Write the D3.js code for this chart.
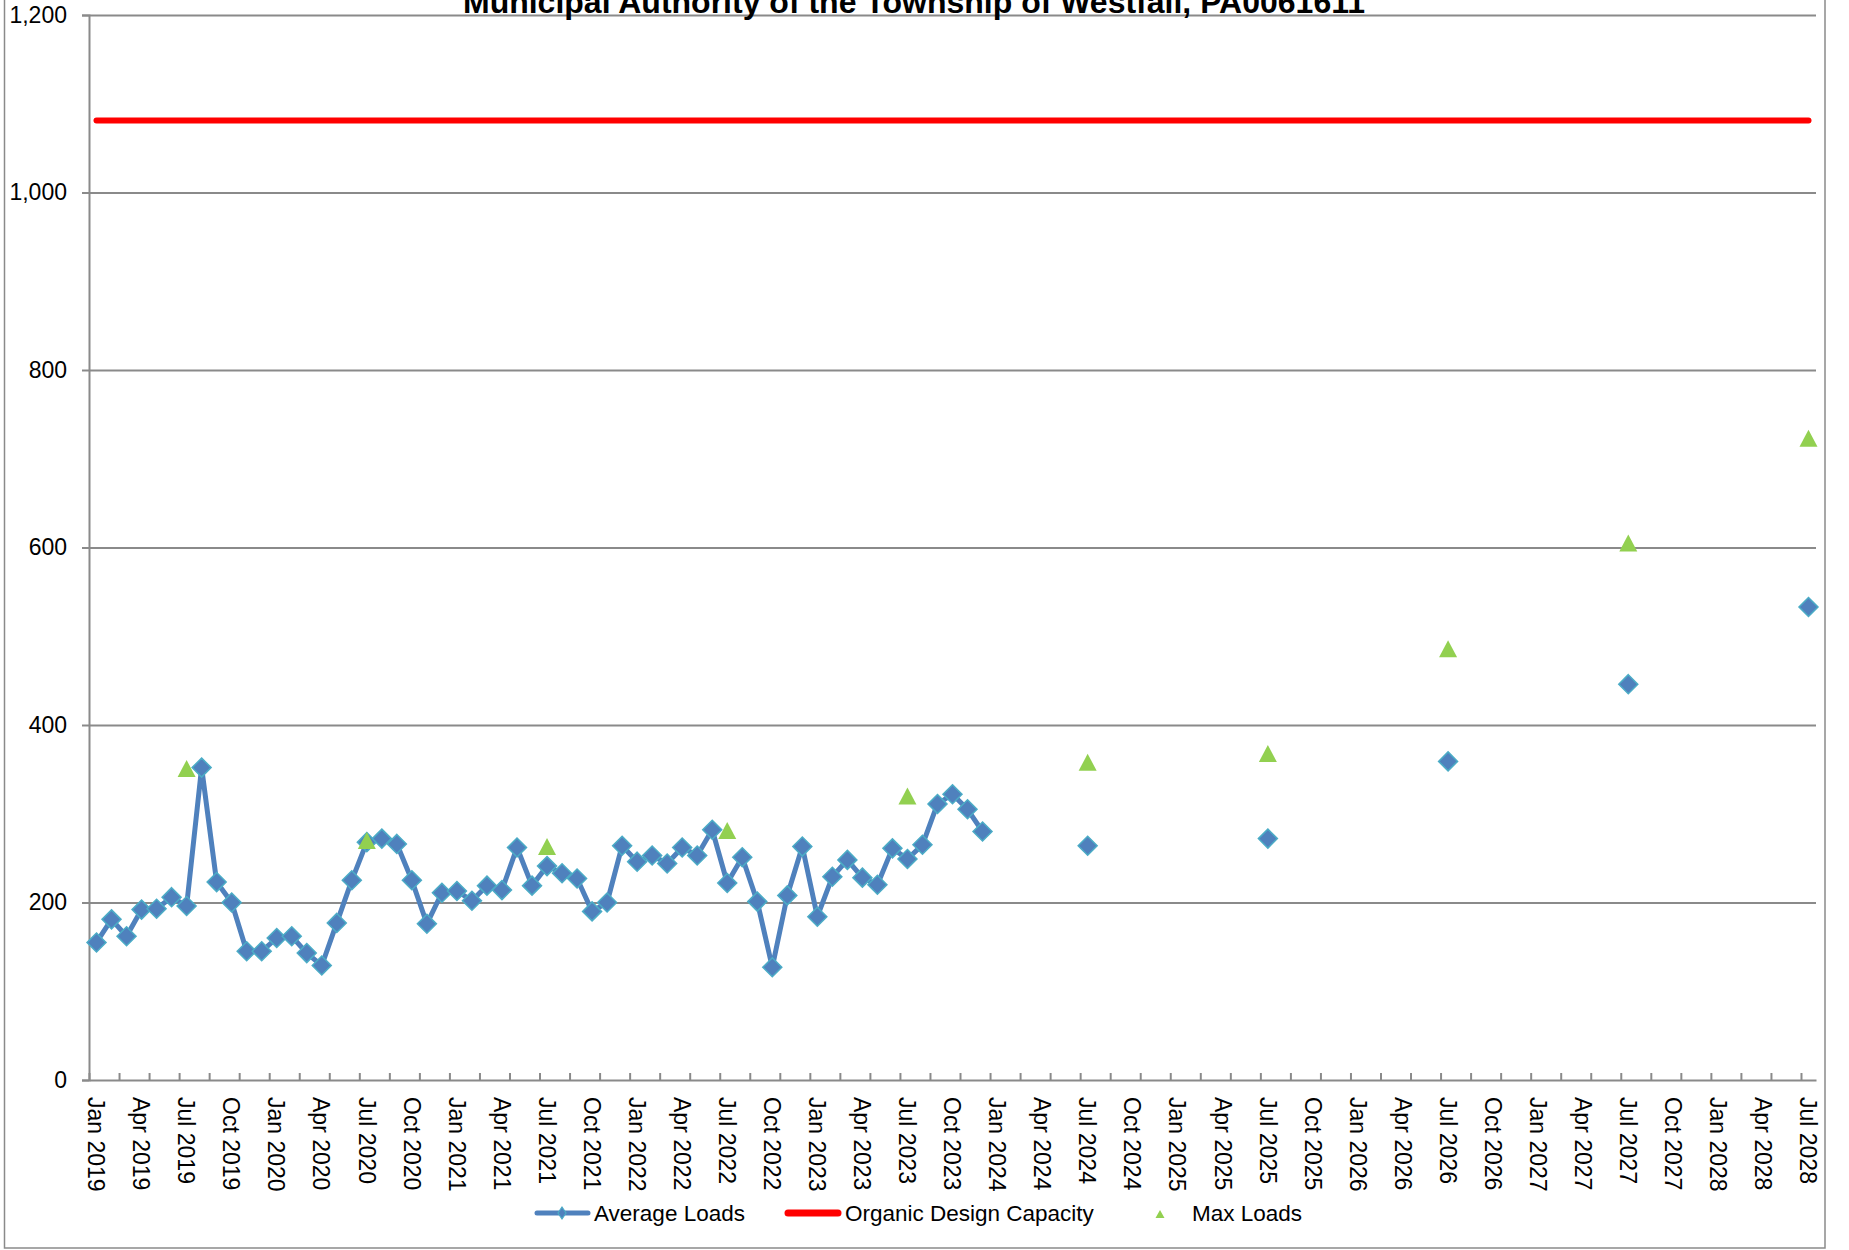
<!DOCTYPE html>
<html>
<head>
<meta charset="utf-8">
<script src="https://cdn.jsdelivr.net/npm/d3@7"></script>
<style>
  html, body { margin: 0; padding: 0; background: #fff; }
  svg text { font-family: Arial, "Liberation Sans", sans-serif; fill: #000; }
</style>
</head>
<body>
<svg id="chart" width="1849" height="1250"></svg>
<script>
// categories: one per month, Jan 2019 .. Jul 2028
var months = d3.timeMonth.range(new Date(2019, 0, 1), new Date(2028, 7, 1));
var key = d3.timeFormat("%Y-%m");
var label = d3.timeFormat("%b %Y");

// monthly average loads, Jan 2019 .. Dec 2023
var avgLoads = [
  155, 181, 162, 192, 193, 206, 196, 352, 223, 200, 145, 145,
  160, 162, 143, 129, 177, 225, 268, 272, 266, 225, 176, 211,
  213, 202, 219, 214, 262, 219, 241, 233, 227, 190, 200, 264,
  246, 253, 244, 262, 253, 282, 222, 251, 201, 127, 208, 263,
  184, 229, 248, 228, 220, 261, 249, 265, 311, 322, 305, 280
];
// projected average loads
var projMonths = ["2024-07", "2025-07", "2026-07", "2027-07", "2028-07"];
var projLoads = [264, 272, 359, 446, 533];

// max loads
var maxMonths = ["2019-07", "2020-07", "2021-07", "2022-07", "2023-07",
                 "2024-07", "2025-07", "2026-07", "2027-07", "2028-07"];
var maxLoads = [351, 270, 263, 281, 320, 358, 368, 486, 605, 723];

var designCapacity = 1081;
var yTicks = [0, 200, 400, 600, 800, 1000, 1200];
var title = "Municipal Authority of the Township of Westfall, PA0061611";
var legendNames = ["Average Loads", "Organic Design Capacity", "Max Loads"];

var svg = d3.select("#chart");
var plotLeft = 89, plotRight = 1816, plotTop = 15, plotBottom = 1080;
var grey = "#8a8a8a";

// outer chart border
svg.append("rect")
  .attr("x", 4.5).attr("y", -10)
  .attr("width", 1820.5).attr("height", 1258)
  .style("fill", "none").style("stroke", grey).style("stroke-width", 1.5);

var x = d3.scaleBand().domain(months.map(key)).range([plotLeft, plotRight]).padding(0);
var xi = d3.scaleLinear().domain([-0.5, months.length - 0.5]).range([plotLeft, plotRight]);
var y = d3.scaleLinear().domain([0, 1200]).range([plotBottom, plotTop]);
var cx = function(k) { return x(k) + x.bandwidth() / 2; };

// gridlines
svg.append("g")
  .attr("transform", "translate(" + plotLeft + ",0)")
  .call(d3.axisLeft(y).tickValues(yTicks.slice(1)).tickSize(-(plotRight - plotLeft)).tickFormat(""))
  .call(function(g) { g.select(".domain").remove(); })
  .selectAll("line").style("stroke", grey).style("stroke-width", 2);

// y axis
var yAxis = svg.append("g")
  .attr("transform", "translate(" + plotLeft + ",0)")
  .call(d3.axisLeft(y).tickValues(yTicks).tickSize(7).tickPadding(15).tickFormat(d3.format(",")));
yAxis.select(".domain").style("stroke", grey).style("stroke-width", 2);
yAxis.selectAll("line").style("stroke", grey).style("stroke-width", 2);
yAxis.selectAll("text").style("font-size", "23px").attr("fill", "#000");

// x axis tick marks (every 2 months, pointing up)
var xTickAxis = svg.append("g")
  .attr("transform", "translate(0," + plotBottom + ")")
  .call(d3.axisBottom(xi).tickValues(d3.range(-0.5, months.length, 2)).tickSizeInner(-7).tickSizeOuter(0).tickFormat(""));
xTickAxis.select(".domain").style("stroke", grey).style("stroke-width", 2);
xTickAxis.selectAll("line").style("stroke", grey).style("stroke-width", 2);

// x axis labels (every 3 months, rotated)
var xLab = svg.append("g")
  .attr("transform", "translate(0," + plotBottom + ")")
  .call(d3.axisBottom(x).tickValues(months.filter(function(d, i) { return i % 3 === 0; }).map(key))
    .tickSize(0).tickFormat(function(k) { return label(d3.timeParse("%Y-%m")(k)); }));
xLab.select(".domain").remove();
xLab.selectAll("text")
  .style("font-size", "23px").attr("fill", "#000")
  .attr("text-anchor", "start")
  .attr("transform", "rotate(90)")
  .attr("x", 17).attr("y", 0).attr("dy", "0.36em");

// design capacity
svg.append("line")
  .attr("x1", cx(key(months[0]))).attr("x2", cx(key(months[months.length - 1])))
  .attr("y1", y(designCapacity)).attr("y2", y(designCapacity))
  .style("stroke", "#ff0000").style("stroke-width", 6).style("stroke-linecap", "round");

// average loads line
var hist = avgLoads.map(function(v, i) { return { k: key(months[i]), v: v }; });
var proj = projMonths.map(function(k, i) { return { k: k, v: projLoads[i] }; });

svg.append("path")
  .datum(hist)
  .attr("d", d3.line().x(function(d) { return cx(d.k); }).y(function(d) { return y(d.v); }))
  .style("fill", "none").style("stroke", "#4f81bd").style("stroke-width", 5)
  .style("stroke-linejoin", "round");

var diamond = function(r) { return "M0," + (-r) + "L" + r + ",0L0," + r + "L" + (-r) + ",0Z"; };
var triangle = function(w, h) { return "M0," + (-h / 2) + "L" + (w / 2) + "," + (h / 2) + "L" + (-w / 2) + "," + (h / 2) + "Z"; };

svg.append("g").selectAll("path")
  .data(hist.concat(proj))
  .join("path")
  .attr("d", diamond(9.5))
  .attr("transform", function(d) { return "translate(" + cx(d.k) + "," + y(d.v) + ")"; })
  .style("fill", "#4f81bd").style("stroke", "#4bacc6").style("stroke-width", 1.5);

// max loads
svg.append("g").selectAll("path")
  .data(maxMonths.map(function(k, i) { return { k: k, v: maxLoads[i] }; }))
  .join("path")
  .attr("d", triangle(18, 17))
  .attr("transform", function(d) { return "translate(" + cx(d.k) + "," + y(d.v) + ")"; })
  .style("fill", "#92d050");

// title
svg.append("text")
  .attr("x", 914).attr("y", 13)
  .attr("text-anchor", "middle")
  .style("font-size", "32px").style("font-weight", "bold")
  .text(title);

// legend
var ly = 1213;
var lg = svg.append("g").style("font-size", "22.5px");
lg.append("line").attr("x1", 537).attr("x2", 588).attr("y1", ly).attr("y2", ly)
  .style("stroke", "#4f81bd").style("stroke-width", 5).style("stroke-linecap", "round");
lg.append("path").attr("d", "M0,-6L4,0L0,6L-4,0Z")
  .attr("transform", "translate(562," + ly + ")")
  .style("fill", "#4f81bd").style("stroke", "#4bacc6").style("stroke-width", 1.2);
lg.append("text").attr("x", 594).attr("y", ly).attr("dy", "0.36em").text(legendNames[0]);

lg.append("line").attr("x1", 788).attr("x2", 838).attr("y1", ly).attr("y2", ly)
  .style("stroke", "#ff0000").style("stroke-width", 7).style("stroke-linecap", "round");
lg.append("text").attr("x", 845).attr("y", ly).attr("dy", "0.36em").text(legendNames[1]);

lg.append("path").attr("d", triangle(9, 8))
  .attr("transform", "translate(1160," + (ly + 1) + ")")
  .style("fill", "#92d050");
lg.append("text").attr("x", 1192).attr("y", ly).attr("dy", "0.36em").text(legendNames[2]);
</script>
</body>
</html>
